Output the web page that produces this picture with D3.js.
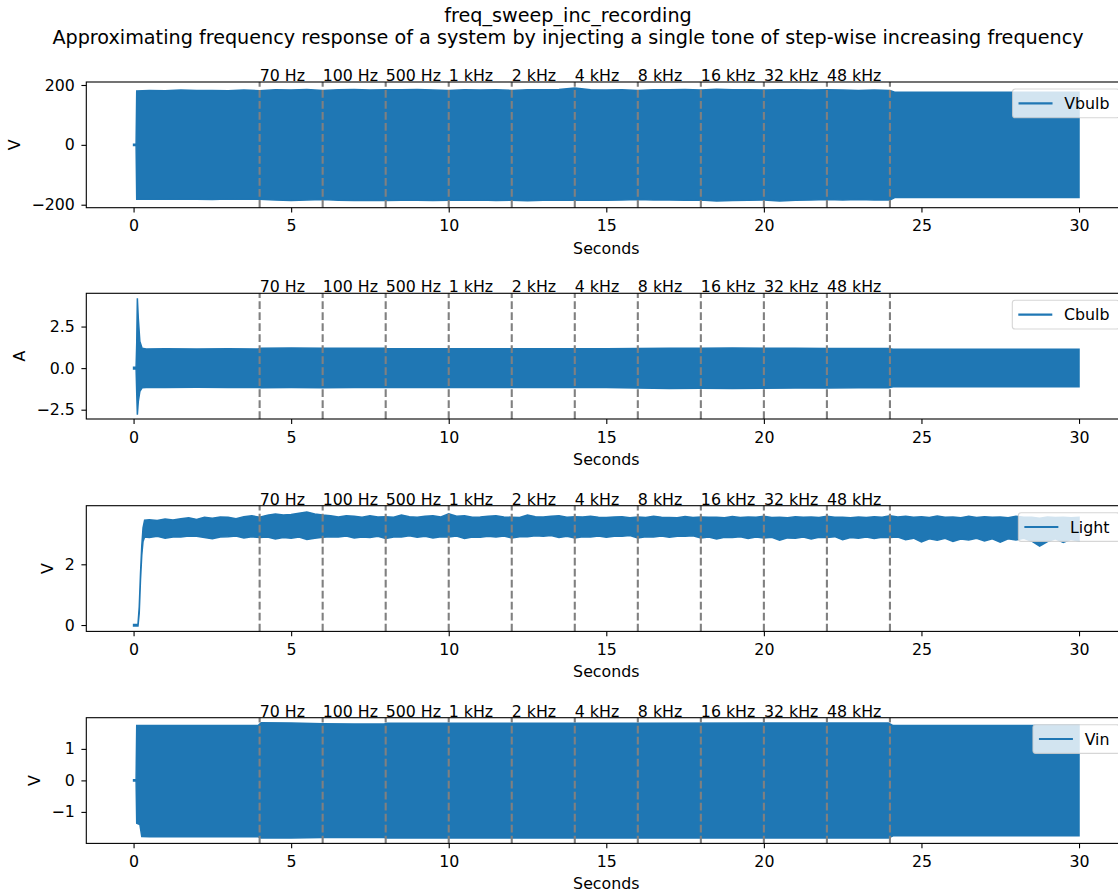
<!DOCTYPE html>
<html><head><meta charset="utf-8">
<script src="https://cdn.jsdelivr.net/npm/d3@7"></script>
<style>body{margin:0;background:#fff}svg{display:block}text{font-family:"DejaVu Sans",sans-serif;fill:#000}</style>
</head><body><svg id="c" width="1118" height="894"></svg>
<script>
// ---------------- data ----------------
const chartTitle = "freq_sweep_inc_recording";
const chartSubtitle = "Approximating frequency response of a system by injecting a single tone of step-wise increasing frequency";
const xLabel = "Seconds";
const xTicks = [0, 5, 10, 15, 20, 25, 30];
const markerTimes = [4, 6, 8, 10, 12, 14, 16, 18, 20, 22, 24];
const markerLabels = ["70 Hz", "100 Hz", "500 Hz", "1 kHz", "2 kHz", "4 kHz", "8 kHz", "16 kHz", "32 kHz", "48 kHz"];
const seriesNames = ["Vbulb", "Cbulb", "Light", "Vin"];
const yUnits = ["V", "A", "V", "V"];
const yTicksVbulb = [-200, 0, 200];
const yTicksCbulb = [-2.5, 0, 2.5];
const yTicksLight = [0, 2];
const yTicksVin = [-1, 0, 1];

// envelopes (upper / lower extent of the oscillating signal)
const vbulbTime = [0,0.08,0.1,0.5,1,1.5,2,2.5,3,3.5,4,4.5,5,5.5,6,6.5,7,7.5,8,8.5,9,9.5,10,10.5,11,11.5,12,12.5,13,13.5,14,14.5,15,15.5,16,16.5,17,17.5,18,18.5,19,19.5,20,20.5,21,21.5,22,22.5,23,23.5,24,24.15,30];
const vbulbUpper = [2,2,180,182,181,183,182,182,181,183,181,184,183,185,182,184,185,183,184,184,185,183,182,184,183,184,182,184,184,185,190,184,183,184,182,184,184,185,183,186,184,184,183,184,184,183,184,183,182,183,182,176,176];
const vbulbLower = [-2,-2,-182,-182,-181,-182,-182,-183,-181,-182,-182,-184,-186,-184,-183,-185,-186,-185,-186,-185,-185,-186,-185,-185,-184,-186,-185,-187,-185,-185,-184,-185,-185,-184,-183,-184,-184,-185,-184,-188,-186,-185,-184,-188,-185,-184,-183,-184,-183,-184,-184,-176,-176];

const cbulbTime = [0,0.08,0.1,0.12,0.15,0.2,0.27,0.4,1,2,3,3.95,4.05,5,6,7,7.95,8.05,9,10,11,12,13,14,15,16,17,18,19,20,21,22,23,23.95,24.1,25,26,27,28,29,30];
const cbulbUpper = [0.05,0.05,1.5,4.2,3.0,1.6,1.2,1.15,1.16,1.15,1.16,1.15,1.2,1.21,1.2,1.19,1.2,1.17,1.17,1.16,1.17,1.16,1.17,1.17,1.16,1.18,1.2,1.2,1.21,1.2,1.19,1.18,1.18,1.18,1.14,1.14,1.14,1.14,1.14,1.14,1.14];
const cbulbLower = [-0.05,-0.05,-1.5,-2.8,-2.0,-1.4,-1.18,-1.16,-1.16,-1.15,-1.16,-1.16,-1.18,-1.17,-1.18,-1.17,-1.17,-1.16,-1.16,-1.17,-1.16,-1.16,-1.17,-1.16,-1.17,-1.2,-1.22,-1.21,-1.22,-1.21,-1.2,-1.19,-1.18,-1.18,-1.12,-1.12,-1.12,-1.12,-1.12,-1.12,-1.12];

const lightTime = [0,0.14,0.18,0.22,0.26,0.3,0.35,
  0.5,0.75,1,1.25,1.5,1.75,2,2.25,2.5,2.75,3,3.25,3.5,3.75,4,4.25,4.5,4.75,5,5.25,5.5,5.75,6,6.25,
  6.5,6.75,7,7.25,7.5,7.75,8,8.25,8.5,8.75,9,9.25,9.5,9.75,10,10.25,10.5,10.75,11,11.25,11.5,11.75,12,12.25,
  12.5,12.75,13,13.25,13.5,13.75,14,14.25,14.5,14.75,15,15.25,15.5,15.75,16,16.25,16.5,16.75,17,17.25,17.5,17.75,18,18.25,
  18.5,18.75,19,19.25,19.5,19.75,20,20.25,20.5,20.75,21,21.25,21.5,21.75,22,22.25,22.5,22.75,23,23.25,23.5,23.75,24,24.25,
  24.5,24.75,25,25.25,25.5,25.75,26,26.25,26.5,26.75,27,27.25,27.5,27.75,28,28.25,28.5,28.75,29,29.25,29.5,29.75,30];
const lightUpper = [0.02,0.02,0.6,1.7,2.6,3.2,3.45,
  3.47,3.44,3.49,3.46, 3.5,3.53,3.48,3.55, 3.52,3.56,3.55,3.5, 3.57,3.6,3.55,3.62, 3.66,3.62,3.64,3.68, 3.72,3.66,3.62,3.6,
  3.56,3.6,3.58,3.55, 3.6,3.56,3.57,3.55, 3.62,3.57,3.55,3.58, 3.6,3.56,3.66,3.58, 3.6,3.55,3.56,3.58, 3.6,3.56,3.55,3.54,
  3.62,3.57,3.56,3.58, 3.6,3.55,3.57,3.56, 3.58,3.55,3.54,3.56, 3.57,3.53,3.56,3.54, 3.58,3.55,3.54,3.53, 3.57,3.54,3.56,3.55,
  3.55,3.53,3.57,3.54, 3.56,3.55,3.58,3.54, 3.55,3.53,3.57,3.55, 3.56,3.54,3.58,3.55, 3.55,3.53,3.56,3.54, 3.57,3.55,3.6,3.56,
  3.58,3.55,3.57,3.54, 3.59,3.55,3.56,3.53, 3.58,3.54,3.57,3.55, 3.56,3.53,3.58,3.55, 3.55,3.52,3.56,3.54, 3.55,3.53,3.55];
const lightLower = [-0.03,-0.03,0.4,1.5,2.3,2.75,2.9,
  2.88,2.92,2.86,2.9, 2.9,2.93,2.92,2.88, 2.84,2.9,2.91,2.93, 2.87,2.91,2.88,2.9, 2.83,2.88,2.86,2.9, 2.82,2.86,2.89,2.91,
  2.9,2.93,2.87,2.9, 2.88,2.92,2.85,2.9, 2.9,2.94,2.89,2.92, 2.87,2.91,2.9,2.93, 2.85,2.9,2.89,2.92, 2.9,2.93,2.87,2.91,
  2.91,2.94,2.92,2.95, 2.88,2.92,2.87,2.91, 2.9,2.93,2.89,2.92, 2.92,2.95,2.87,2.91, 2.9,2.93,2.89,2.92, 2.92,2.94,2.87,2.9,
  2.83,2.89,2.88,2.91, 2.85,2.9,2.87,2.89, 2.79,2.87,2.86,2.9, 2.83,2.89,2.88,2.91, 2.81,2.88,2.86,2.9, 2.85,2.89,2.88,2.9,
  2.81,2.86,2.74,2.84, 2.79,2.86,2.75,2.83, 2.8,2.86,2.77,2.84, 2.73,2.84,2.8,2.86, 2.76,2.6,2.75,2.84, 2.72,2.82,2.77];

const vinTime = [0,0.08,0.1,0.2,0.26,0.5,2,3.95,4.05,5,6,7,7.95,8.05,12,16,20,23.95,24.1,30];
const vinUpper = [0.02,0.02,1.74,1.74,1.74,1.74,1.74,1.74,1.83,1.82,1.8,1.79,1.79,1.81,1.81,1.81,1.82,1.82,1.74,1.74];
const vinLower = [-0.02,-0.02,-1.36,-1.4,-1.78,-1.79,-1.79,-1.79,-1.83,-1.83,-1.81,-1.81,-1.81,-1.83,-1.83,-1.83,-1.83,-1.83,-1.76,-1.76];

// ---------------- layout ----------------
const svg = d3.select("#c");
const BLUE = "#1f77b4";
const left = 86.3, right = 1126.3;
const panelTops = [82, 293.3, 505.7, 717.7];
const panelH = 125.7;
const TICK = 15.8, LBL = 15.8;

const panels = [
  {time: vbulbTime, hi: vbulbUpper, lo: vbulbLower, dom: [-210, 210], ticks: yTicksVbulb, fmt: d3.format("d")},
  {time: cbulbTime, hi: cbulbUpper, lo: cbulbLower, dom: [-3.06, 4.5], ticks: yTicksCbulb, fmt: d3.format(".1f")},
  {time: lightTime, hi: lightUpper, lo: lightLower, dom: [-0.21, 3.93], ticks: yTicksLight, fmt: d3.format("d")},
  {time: vinTime, hi: vinUpper, lo: vinLower, dom: [-2.0, 1.99], ticks: yTicksVin, fmt: d3.format("d")}
];

const x = d3.scaleLinear().domain([-1.5, 31.5]).range([left, right]);

svg.append("text").attr("x", 568).attr("y", 22).attr("text-anchor", "middle")
  .style("font-size", "19.2px").text(chartTitle);
svg.append("text").attr("x", 568).attr("y", 44).attr("text-anchor", "middle")
  .style("font-size", "19.2px").text(chartSubtitle);

panels.forEach((p, i) => {
  const top = panelTops[i], bottom = top + panelH;
  const y = d3.scaleLinear().domain(p.dom).range([bottom, top]);
  const g = svg.append("g");
  const cid = "clip" + i;
  svg.append("defs").append("clipPath").attr("id", cid)
    .append("rect").attr("x", left).attr("y", top).attr("width", right - left).attr("height", panelH);

  const pts = p.time.map((t, k) => ({t, hi: p.hi[k], lo: p.lo[k]}));
  const area = d3.area().x(d => x(d.t)).y0(d => y(d.lo)).y1(d => y(d.hi));
  g.append("path").datum(pts).attr("clip-path", `url(#${cid})`)
    .attr("d", area).attr("fill", BLUE).attr("stroke", BLUE)
    .attr("stroke-width", 1.5).attr("stroke-linejoin", "miter");

  // marker lines
  markerTimes.forEach(t => {
    g.append("line").attr("x1", x(t)).attr("x2", x(t)).attr("y1", bottom).attr("y2", top)
      .attr("stroke", "#808080").attr("stroke-width", 2.1).attr("stroke-dasharray", "7.7,3.3");
  });
  markerLabels.forEach((lab, k) => {
    g.append("text").attr("x", x(markerTimes[k])).attr("y", top - 1)
      .style("font-size", LBL + "px").text(lab);
  });

  // axes
  const xa = g.append("g").attr("transform", `translate(0,${bottom})`)
    .call(d3.axisBottom(x).tickValues(xTicks).tickSize(4.9).tickPadding(7.5).tickFormat(d3.format("d")));
  const ya = g.append("g").attr("transform", `translate(${left},0)`)
    .call(d3.axisLeft(y).tickValues(p.ticks).tickSize(4.9).tickPadding(6.5).tickFormat(p.fmt));
  [xa, ya].forEach(a => {
    a.select(".domain").remove();
    a.selectAll(".tick line").attr("stroke", "#000").attr("stroke-width", 1.1);
    a.selectAll(".tick text").style("font-size", TICK + "px").attr("fill", "#000")
      .style("font-family", "DejaVu Sans, sans-serif");
  });
  g.append("rect").attr("x", left).attr("y", top).attr("width", right - left).attr("height", panelH)
    .attr("fill", "none").attr("stroke", "#000").attr("stroke-width", 1.1);

  g.append("text").attr("x", (left + right) / 2).attr("y", bottom + 46).attr("text-anchor", "middle")
    .style("font-size", TICK + "px").text(xLabel);

  const bb = ya.node().getBBox();
  const lx = left + bb.x - 17.3;
  g.append("text").attr("transform", `translate(${lx},${(top + bottom) / 2}) rotate(-90)`)
    .attr("text-anchor", "middle").attr("dy", "0.36em")
    .style("font-size", TICK + "px").text(yUnits[i]);

  // legend
  const lg = g.append("g");
  const txt = lg.append("text").style("font-size", TICK + "px").text(seriesNames[i]);
  const tw = txt.node().getComputedTextLength();
  const R = right - 7;
  const lx0 = R - tw - 61.5, ly0 = top + 7, lh = 28.7;
  lg.insert("rect", "text").attr("x", lx0).attr("y", ly0).attr("width", R - lx0).attr("height", lh)
    .attr("rx", 2.8).attr("fill", "#fff").attr("fill-opacity", 0.8)
    .attr("stroke", "#cccccc").attr("stroke-opacity", 0.8).attr("stroke-width", 1.1);
  lg.insert("line", "text").attr("x1", lx0 + 6).attr("x2", lx0 + 40).attr("y1", ly0 + lh / 2).attr("y2", ly0 + lh / 2)
    .attr("stroke", BLUE).attr("stroke-width", 2.1);
  txt.attr("x", lx0 + 51.7).attr("y", ly0 + lh / 2).attr("dy", "0.36em");
});
</script></body></html>
